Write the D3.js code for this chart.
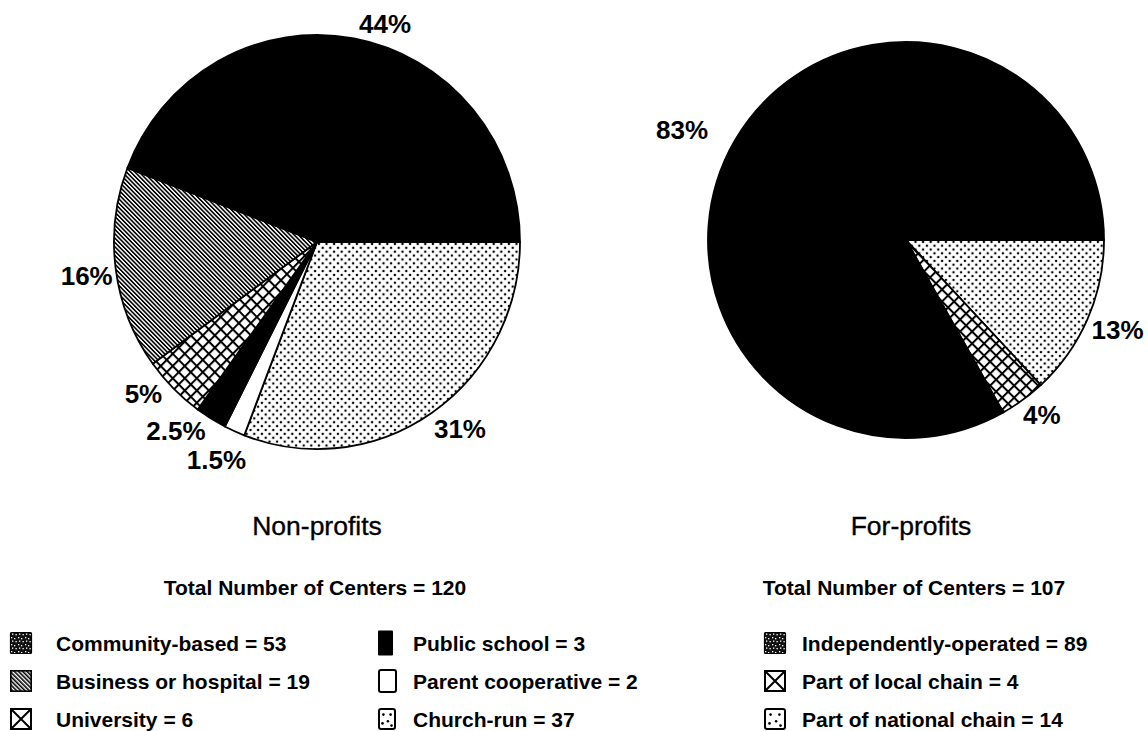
<!DOCTYPE html>
<html><head><meta charset="utf-8">
<script src="https://cdn.jsdelivr.net/npm/d3@7"></script>
<style>
html,body{margin:0;padding:0;background:#fff;}
svg{display:block;font-family:"Liberation Sans",Arial,Helvetica,sans-serif;}
</style></head>
<body>
<svg id="chart" width="1148" height="731"></svg>
<script>
// ---- data ----
const npCategories = ["Church-run","Parent cooperative","Public school","University","Business or hospital","Community-based"];
const npValues     = [37, 2, 3, 6, 19, 53];
const npLabels     = ["31%","1.5%","2.5%","5%","16%","44%"];
const npLegendOrder = ["Community-based","Business or hospital","University","Public school","Parent cooperative","Church-run"];

const fpCategories = ["Part of national chain","Part of local chain","Independently-operated"];
const fpValues     = [14, 4, 89];
const fpLabels     = ["13%","4%","83%"];
const fpLegendOrder = ["Independently-operated","Part of local chain","Part of national chain"];

const titles = ["Non-profits","For-profits"];
const totals = [120, 107];

// ---- styling / layout ----
const fillOf = {
  "Community-based":"#000",
  "Business or hospital":"url(#hatch)",
  "University":"url(#grid)",
  "Public school":"#000",
  "Parent cooperative":"#fff",
  "Church-run":"url(#dots)",
  "Independently-operated":"#000",
  "Part of local chain":"url(#grid)",
  "Part of national chain":"url(#dots)"
};
const swatchOf = {
  "Community-based":"speckle",
  "Business or hospital":"hatch",
  "University":"xbox",
  "Public school":"solid",
  "Parent cooperative":"empty",
  "Church-run":"dotbox",
  "Independently-operated":"speckle",
  "Part of local chain":"xbox",
  "Part of national chain":"dotbox"
};
// label nudges relative to the arc edge point at mid-angle
const npNudge = [[28,25],[-18,38],[-35,21],[-30,15],[-29,16],[31,-5]];
const fpNudge = [[30,20],[19,24],[-53,-1]];

const svg = d3.select("#chart");
const defs = svg.append("defs");

// diagonal hatch
const ph = defs.append("pattern").attr("id","hatch").attr("patternUnits","userSpaceOnUse")
  .attr("width",3).attr("height",3).attr("patternTransform","rotate(-45)");
ph.append("rect").attr("width",3).attr("height",3).attr("fill","#fff");
ph.append("line").attr("x1",0.8).attr("y1",0).attr("x2",0.8).attr("y2",3).attr("stroke","#000").attr("stroke-width",1.6);

// grid
const pg = defs.append("pattern").attr("id","grid").attr("patternUnits","userSpaceOnUse")
  .attr("width",8.5).attr("height",8.5).attr("patternTransform","rotate(45)");
pg.append("rect").attr("width",8.5).attr("height",8.5).attr("fill","#fff");
pg.append("line").attr("x1",1).attr("y1",0).attr("x2",1).attr("y2",8.5).attr("stroke","#000").attr("stroke-width",2);
pg.append("line").attr("x1",0).attr("y1",1).attr("x2",8.5).attr("y2",1).attr("stroke","#000").attr("stroke-width",2);

// dots
const pd = defs.append("pattern").attr("id","dots").attr("patternUnits","userSpaceOnUse")
  .attr("width",7.6).attr("height",7.6);
pd.append("rect").attr("width",7.6).attr("height",7.6).attr("fill","#fff");
pd.append("circle").attr("cx",1.9).attr("cy",1.9).attr("r",1.25).attr("fill","#000");
pd.append("circle").attr("cx",5.7).attr("cy",5.7).attr("r",1.25).attr("fill","#000");

// speckle (legend swatch)
const ps = defs.append("pattern").attr("id","speckle").attr("patternUnits","userSpaceOnUse")
  .attr("width",7).attr("height",7);
ps.append("rect").attr("width",7).attr("height",7).attr("fill","#111");
[[1,1],[4,2],[2,4.5],[5.5,5]].forEach(p=>ps.append("rect").attr("x",p[0]).attr("y",p[1]).attr("width",1.3).attr("height",1.3).attr("fill","#fff"));

function drawPie(cfg){
  const g = svg.append("g").attr("transform",`translate(${cfg.cx},${cfg.cy}) scale(1,${cfg.sy})`);
  const pie = d3.pie().sort(null).value(d=>d.v).startAngle(Math.PI/2).endAngle(Math.PI/2+2*Math.PI);
  const data = cfg.cats.map((c,i)=>({c, v:cfg.vals[i], lab:cfg.labels[i], nudge:cfg.nudge[i]}));
  const arcs = pie(data);
  const arc = d3.arc().innerRadius(0).outerRadius(cfg.r);
  g.selectAll("path.slice").data(arcs).join("path").attr("class","slice")
    .attr("d",arc).attr("fill",d=>fillOf[d.data.c])
    .attr("stroke","#000").attr("stroke-width",1.8).attr("stroke-linejoin","round");
  // labels
  svg.append("g").selectAll("text").data(arcs).join("text")
    .attr("x",d=>{const a=(d.startAngle+d.endAngle)/2; return cfg.cx+cfg.r*Math.sin(a)+d.data.nudge[0];})
    .attr("y",d=>{const a=(d.startAngle+d.endAngle)/2; return cfg.cy-cfg.r*cfg.sy*Math.cos(a)+d.data.nudge[1];})
    .attr("text-anchor","middle").attr("font-size",26).attr("font-weight","bold").attr("fill","#000")
    .text(d=>d.data.lab);
}

drawPie({cx:317, cy:242, r:203, sy:1.02, cats:npCategories, vals:npValues, labels:npLabels, nudge:npNudge});
drawPie({cx:906, cy:240, r:198, sy:1.0, cats:fpCategories, vals:fpValues, labels:fpLabels, nudge:fpNudge});

// titles and totals
const titleX = [317, 911];
const totalX = [315, 914];
svg.selectAll("text.title").data(titles).join("text").attr("class","title")
  .attr("x",(d,i)=>titleX[i]).attr("y",535).attr("text-anchor","middle")
  .attr("font-size",26.5).attr("fill","#000").attr("stroke","#000").attr("stroke-width",0.35).text(d=>d);
svg.selectAll("text.total").data(totals).join("text").attr("class","total")
  .attr("x",(d,i)=>totalX[i]).attr("y",595).attr("text-anchor","middle")
  .attr("font-size",21).attr("font-weight","bold").attr("fill","#000")
  .text(d=>`Total Number of Centers = ${d}`);

// legends
const valueOf = {};
npCategories.forEach((c,i)=>valueOf[c]=npValues[i]);
fpCategories.forEach((c,i)=>valueOf[c]=fpValues[i]);

const legendItems = [
  ...npLegendOrder.map((c,i)=>({c, col: i<3?0:1, row:i%3})),
  ...fpLegendOrder.map((c,i)=>({c, col:2, row:i}))
];
const colX = [10, 378, 764];
const textDX = [46, 35, 38];
const rowY = [643, 681, 719];
const lg = svg.append("g");
const item = lg.selectAll("g.item").data(legendItems).join("g").attr("class","item")
  .attr("transform",d=>`translate(${colX[d.col]},${rowY[d.row]})`);
item.each(function(d){
  const s = d3.select(this);
  const t = swatchOf[d.c];
  const w=22,h=22, y0=-11;
  if(t==="speckle"){ s.append("rect").attr("x",0.5).attr("y",y0+0.5).attr("width",w-1).attr("height",h-1).attr("fill","url(#speckle)").attr("stroke","#000").attr("stroke-width",1.2).attr("rx",1); }
  else if(t==="hatch"){ s.append("rect").attr("x",0.8).attr("y",y0+0.8).attr("width",w-1.6).attr("height",h-1.6).attr("fill","url(#hatch)").attr("stroke","#000").attr("stroke-width",1.6); }
  else if(t==="solid"){ s.append("rect").attr("x",0).attr("y",y0-1.5).attr("width",15).attr("height",h+3).attr("fill","#000").attr("rx",1); }
  else if(t==="empty"){ s.append("rect").attr("x",1).attr("y",y0).attr("width",17).attr("height",h).attr("fill","#fff").attr("stroke","#000").attr("stroke-width",2).attr("rx",2); }
  else if(t==="xbox"){
    s.append("rect").attr("x",1).attr("y",y0+1).attr("width",w-2).attr("height",h-2).attr("fill","#fff").attr("stroke","#000").attr("stroke-width",2);
    s.append("path").attr("d",`M1.5,${y0+1.5}L${w-1.5},${y0+h-1.5}M${w-1.5},${y0+1.5}L1.5,${y0+h-1.5}`).attr("stroke","#000").attr("stroke-width",2);
  }
  else if(t==="dotbox"){
    const ww = d.col===2? w : 18;
    s.append("rect").attr("x",1).attr("y",y0+1).attr("width",ww-2).attr("height",h-2).attr("fill","#fff").attr("stroke","#000").attr("stroke-width",2).attr("rx",2);
    [[0.3,0.3],[0.7,0.3],[0.25,0.7],[0.55,0.6],[0.75,0.8]].forEach(p=>s.append("circle").attr("cx",ww*p[0]).attr("cy",y0+h*p[1]).attr("r",1.3).attr("fill","#000"));
  }
  s.append("text").attr("x",textDX[d.col]).attr("y",8)
    .attr("font-size",21).attr("font-weight","bold").attr("fill","#000")
    .text(`${d.c} = ${valueOf[d.c]}`);
});
</script>
</body></html>
